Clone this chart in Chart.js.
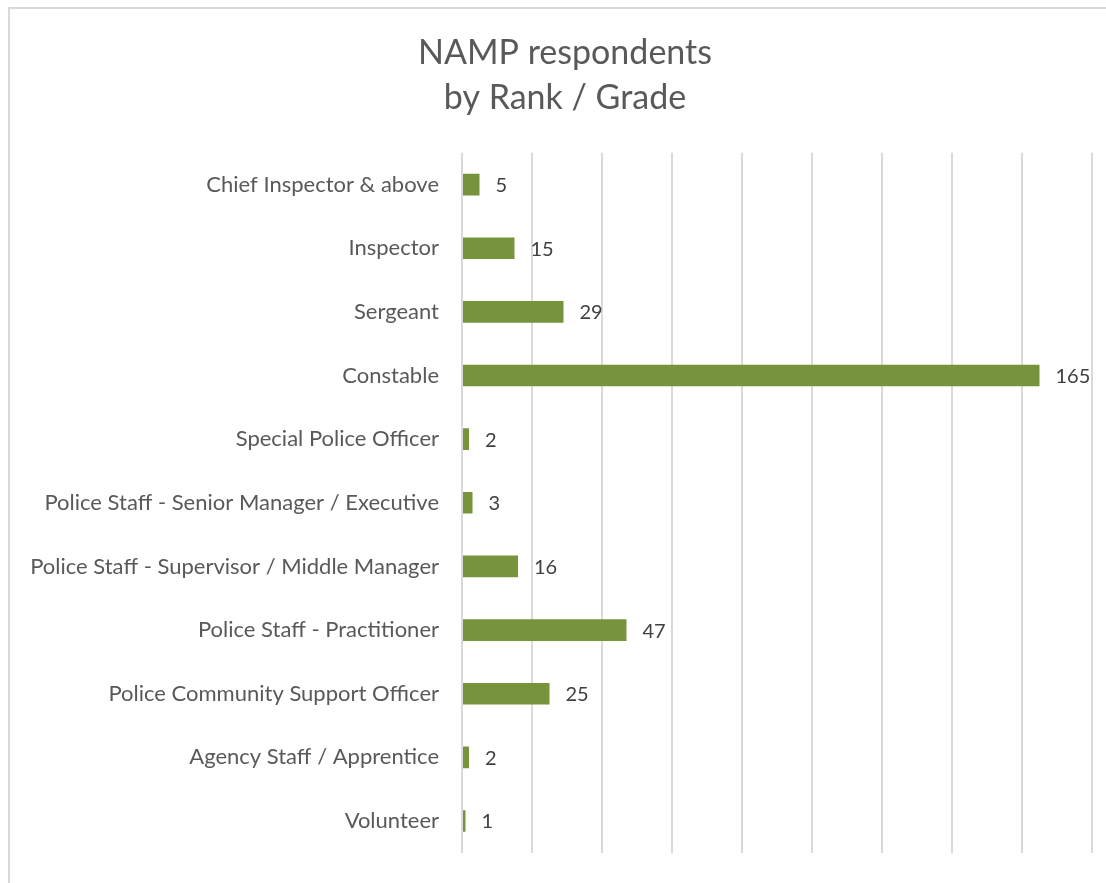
<!DOCTYPE html>
<html>
<head>
<meta charset="utf-8">
<script src="https://cdn.jsdelivr.net/npm/chart.js@4/dist/chart.umd.min.js"></script>
<style>
  html, body { margin: 0; padding: 0; background: #fff; overflow: hidden; }
  #frame {
    position: absolute; left: 8px; top: 7px;
    width: 1110px; height: 880px;
    border: 2px solid #d9d9d9;
  }
  #frame canvas { display: block; }
</style>
</head>
<body>
<div id="frame"><canvas id="mychart" width="1110" height="880"></canvas></div>
<script>
const ranks = ['Chief Inspector & above', 'Inspector', 'Sergeant', 'Constable', 'Special Police Officer',
  'Police Staff - Senior Manager / Executive', 'Police Staff - Supervisor / Middle Manager',
  'Police Staff - Practitioner', 'Police Community Support Officer', 'Agency Staff / Apprentice', 'Volunteer'];
const respondents = [5, 15, 29, 165, 2, 3, 16, 47, 25, 2, 1];
const titleLines = ['NAMP respondents', 'by Rank / Grade'];

const fontName = 'Lato, "Open Sans", sans-serif';

// writes the count just past the end of each bar
const valueLabels = {
  id: 'valueLabels',
  afterDatasetsDraw(chart) {
    const c = chart.ctx;
    const meta = chart.getDatasetMeta(0);
    c.save();
    c.font = '20px ' + fontName;
    c.fillStyle = '#404040';
    c.textAlign = 'left';
    c.textBaseline = 'middle';
    meta.data.forEach((bar, i) => {
      c.fillText(String(chart.data.datasets[0].data[i]), bar.x + 16, bar.y + 1);
    });
    c.restore();
  }
};

// centre the title on the whole canvas, not just the padded area
const centerTitle = {
  id: 'centerTitle',
  afterLayout(chart) {
    if (chart.titleBlock) {
      chart.titleBlock.left = 0;
      chart.titleBlock.right = chart.width;
    }
  }
};

const ctx = document.getElementById('mychart').getContext('2d');
const chart = new Chart(ctx, {
  type: 'bar',
  data: {
    labels: ranks,
    datasets: [{
      label: 'Respondents',
      data: respondents,
      backgroundColor: '#77933C',
      categoryPercentage: 1,
      barPercentage: 0.34
    }]
  },
  options: {
    indexAxis: 'y',
    responsive: false,
    animation: false,
    layout: { padding: { left: 0, right: 28, top: 0, bottom: 31 } },
    plugins: {
      legend: { display: false },
      tooltip: { enabled: false },
      title: {
        display: true,
        text: titleLines,
        color: '#595959',
        font: { family: fontName, size: 34, weight: 'normal', lineHeight: 1.32 },
        padding: { top: 22, bottom: 32 }
      }
    },
    scales: {
      x: {
        min: 0,
        max: 180,
        ticks: { display: false, stepSize: 20 },
        grid: { color: '#d9d9d9', lineWidth: 2, drawTicks: false },
        border: { display: false }
      },
      y: {
        grid: { display: false, drawTicks: false },
        border: { display: false },
        ticks: { color: '#595959', padding: 23, font: { family: fontName, size: 22 } },
        afterFit(scale) { scale.width = 452; }
      }
    }
  },
  plugins: [valueLabels, centerTitle]
});
</script>
</body>
</html>
